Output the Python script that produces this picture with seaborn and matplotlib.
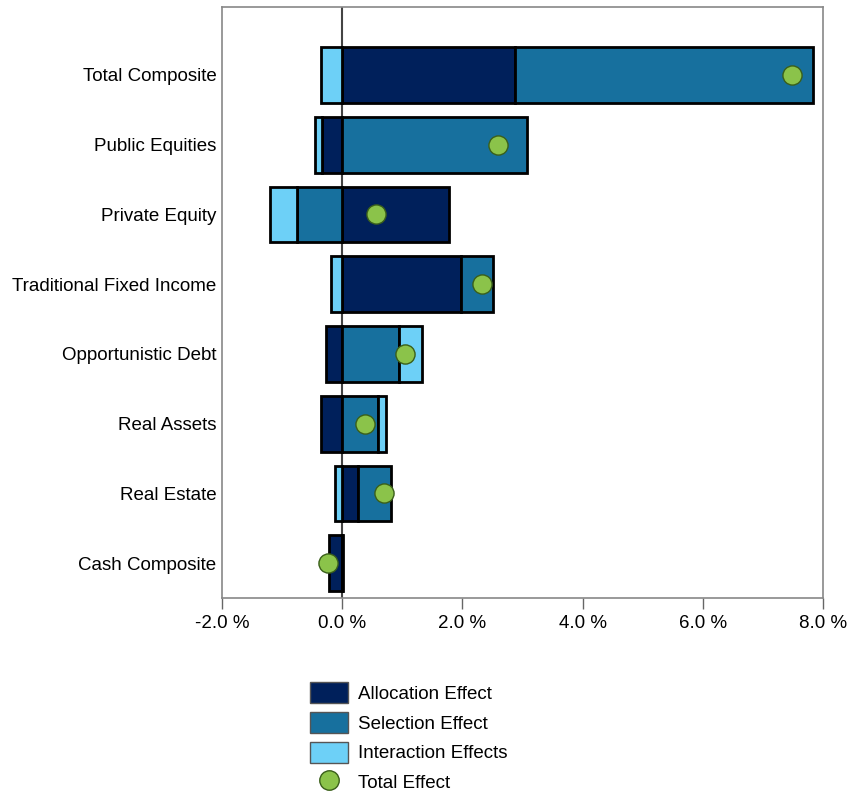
import numpy as np
import pandas as pd
import matplotlib
matplotlib.use("Agg")
import matplotlib.pyplot as plt
import seaborn as sns
from matplotlib.patches import Patch
from matplotlib.lines import Line2D

categories = ["Total Composite", "Public Equities", "Private Equity",
              "Traditional Fixed Income", "Opportunistic Debt", "Real Assets",
              "Real Estate", "Cash Composite"]
allocation = [2.88, -0.33, 1.78, 1.98, -0.27, -0.35, 0.27, -0.22]
selection = [4.95, 3.07, -0.75, 0.53, 0.95, 0.60, 0.55, 0.02]
interaction = [-0.35, -0.12, -0.45, -0.18, 0.37, 0.13, -0.12, 0.0]
total_effect = [7.48, 2.60, 0.57, 2.33, 1.05, 0.38, 0.70, -0.23]
xticks = [-2, 0, 2, 4, 6, 8]

series_names = ["Allocation Effect", "Selection Effect", "Interaction Effects"]
colors = ["#00205B", "#17709E", "#6DD0F7"]
dot_color = "#8BC34A"

sns.set_theme(style="white")
plt.rcParams["font.family"] = ["Liberation Sans", "DejaVu Sans"]
plt.rcParams["text.color"] = "black"
plt.rcParams["xtick.color"] = "black"
plt.rcParams["ytick.color"] = "black"

fig = plt.figure(figsize=(8.52, 7.92), dpi=100)
ax = fig.add_axes([222/852, 1-598/792, (823-222)/852, (598-7)/792])

df = pd.DataFrame({"category": categories, "Allocation Effect": allocation,
                   "Selection Effect": selection, "Interaction Effects": interaction,
                   "Total Effect": total_effect})
ypos = np.arange(len(categories))

ax.axvline(0, color="#444444", lw=1.5, zorder=1)

pos_base = np.zeros(len(categories))
neg_base = np.zeros(len(categories))
for name, col in zip(series_names, colors):
    vals = df[name].to_numpy()
    left = np.where(vals >= 0, pos_base, neg_base)
    mask = vals != 0
    ax.barh(ypos[mask], vals[mask], left=left[mask], height=0.8, color=col,
            edgecolor="black", linewidth=2, zorder=2)
    pos_base = pos_base + np.where(vals > 0, vals, 0)
    neg_base = neg_base + np.where(vals < 0, vals, 0)

sns.scatterplot(x=df["Total Effect"], y=ypos, ax=ax, s=190, color=dot_color,
                edgecolor="#3a5f1a", linewidth=1, zorder=4, legend=False)

ax.set_xlim(-2, 8)
ax.set_ylim(7.5, -0.975)
ax.set_yticks(ypos)
ax.set_yticklabels(categories, fontsize=13.5, color="black")
ax.set_xticks(xticks)
ax.set_xticklabels([f"{v:.1f} %" for v in xticks], fontsize=13.5, color="black")
ax.set_xlabel("")
ax.set_ylabel("")
ax.tick_params(axis="x", direction="out", length=8, width=1, color="#666666",
               bottom=True, pad=4)
ax.tick_params(axis="y", length=0, pad=4)
for sp in ax.spines.values():
    sp.set_visible(True)
    sp.set_color("#888888")
    sp.set_linewidth(1.2)

handles = [Patch(facecolor=c, edgecolor="#555555", linewidth=1) for c in colors]
handles.append(Line2D([0], [0], marker="o", linestyle="", markersize=14,
                      markerfacecolor=dot_color, markeredgecolor="#3a5f1a"))
leg = fig.legend(handles, series_names + ["Total Effect"], loc="upper left",
                 bbox_to_anchor=(310/852, 1-682/792), frameon=False, fontsize=13.5,
                 handlelength=2.05, handleheight=1.35, labelspacing=0.47,
                 handletextpad=0.5, borderaxespad=0, borderpad=0)
for t in leg.get_texts():
    t.set_color("black")

fig.savefig("out.png", dpi=100)
